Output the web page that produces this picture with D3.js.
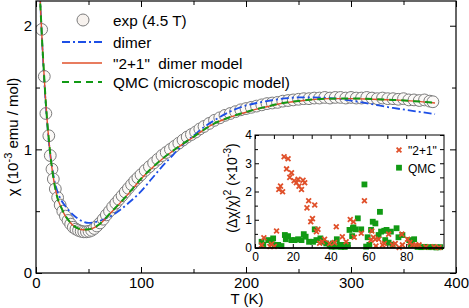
<!DOCTYPE html>
<html>
<head>
<meta charset="utf-8">
<script src="https://cdn.jsdelivr.net/npm/d3@7"></script>
<style>
  body { margin: 0; background: #fff; }
  svg { font-family: "Liberation Sans", Arial, Helvetica, sans-serif; }
</style>
</head>
<body>
<svg id="chart" width="469" height="308"></svg>
<script>
// experimental chi(T) at 4.5 T, 10^-3 emu/mol
var expT = [5.4, 7.9, 9.4, 12.2, 13.6, 15.2, 16.5, 18.4, 20.6, 23, 25.5, 28, 30.5, 33, 35.5, 38, 40.5, 43, 45.5, 48,
  50.5, 53, 55.5, 58, 61, 64, 67, 70, 73, 76, 79, 82, 85, 88, 91, 94, 97, 100, 104, 108, 112, 116, 120, 124, 128,
  132, 136, 140, 144, 148, 152, 156, 160, 165, 170, 175, 180, 185, 190, 195, 200, 205, 210, 215, 220, 225, 230,
  235, 240, 245, 250, 255, 260, 265, 270, 275, 280, 285, 290, 295, 300, 305, 310, 315, 320, 325, 330, 335, 340,
  345, 350, 355, 360, 365, 370, 375, 378];
var expChi = [1.97, 1.59, 1.29, 1.11, 0.95, 0.84, 0.76, 0.68, 0.61, 0.55, 0.5, 0.46, 0.425, 0.395, 0.37, 0.355, 0.345, 0.337, 0.333, 0.333,
  0.337, 0.345, 0.36, 0.38, 0.405, 0.435, 0.47, 0.5, 0.535, 0.565, 0.595, 0.625, 0.655, 0.685, 0.715, 0.745, 0.77, 0.795, 0.83, 0.86, 0.89, 0.92, 0.95, 0.975, 1.0,
  1.025, 1.05, 1.075, 1.1, 1.12, 1.14, 1.165, 1.185, 1.21, 1.235, 1.255, 1.275, 1.29, 1.305, 1.32, 1.33, 1.34, 1.35, 1.36, 1.37, 1.375, 1.38,
  1.39, 1.395, 1.4, 1.405, 1.41, 1.41, 1.415, 1.415, 1.42, 1.415, 1.42, 1.42, 1.415, 1.42, 1.415, 1.415, 1.42, 1.415, 1.41, 1.415, 1.41, 1.41,
  1.405, 1.41, 1.4, 1.4, 1.395, 1.4, 1.39, 1.385];

// model curves
var fitT = [2, 3, 4, 5, 6, 7, 8, 9, 10, 11, 12, 13, 14, 16, 18, 20, 24, 28, 32, 36, 40, 45, 50, 55, 60, 65, 70, 75, 80,
  90, 100, 110, 120, 130, 140, 150, 160, 170, 180, 190, 200, 210, 220, 230, 240, 250, 260, 280, 300, 320, 340, 360, 380];
var dimerChi = [2.9, 2.5, 2.22, 2.02, 1.84, 1.68, 1.53, 1.4, 1.28, 1.18, 1.08, 1.0, 0.93, 0.82, 0.73, 0.67, 0.59, 0.54, 0.5, 0.465, 0.44, 0.415, 0.405, 0.41, 0.42, 0.435, 0.455, 0.48, 0.51,
  0.58, 0.66, 0.76, 0.86, 0.95, 1.04, 1.11, 1.18, 1.235, 1.285, 1.325, 1.355, 1.375, 1.39, 1.405, 1.415, 1.42, 1.42, 1.415, 1.395, 1.365, 1.335, 1.31, 1.285];
var twoOneChi = [2.85, 2.45, 2.2, 2.02, 1.85, 1.7, 1.56, 1.42, 1.3, 1.19, 1.1, 1.01, 0.93, 0.8, 0.7, 0.62, 0.53, 0.46, 0.415, 0.38, 0.36, 0.35, 0.352, 0.365, 0.39, 0.43, 0.475, 0.52, 0.565,
  0.66, 0.76, 0.845, 0.92, 0.985, 1.045, 1.1, 1.16, 1.21, 1.245, 1.275, 1.3, 1.325, 1.345, 1.365, 1.38, 1.39, 1.4, 1.41, 1.41, 1.405, 1.4, 1.39, 1.375];
var qmcChi = [2.86, 2.46, 2.2, 2.02, 1.85, 1.7, 1.56, 1.42, 1.3, 1.19, 1.1, 1.01, 0.93, 0.8, 0.7, 0.62, 0.53, 0.462, 0.416, 0.381, 0.361, 0.351, 0.353, 0.366, 0.392, 0.432, 0.477, 0.522, 0.566,
  0.662, 0.762, 0.846, 0.922, 0.986, 1.046, 1.102, 1.16, 1.21, 1.246, 1.276, 1.302, 1.326, 1.346, 1.366, 1.381, 1.392, 1.401, 1.41, 1.412, 1.407, 1.4, 1.39, 1.376];

// inset: (delta chi / chi)^2 in 10^-3
var resT21 = [3.5, 4.7, 7.9, 8.8, 10.2, 11.4, 12.6, 13.5, 14.6, 15.4, 16.7, 17.5, 18.4, 19.3, 20.7, 21.9, 22.8, 23.3, 24.6, 25.4,
  26.3, 27.5, 28.4, 29.5, 30.4, 31.6, 32.5, 33.3, 34.2, 35.6, 36.8, 39.5, 42.1, 43, 46.2, 48.2, 50.4, 52.1, 52.5, 56.2,
  57.9, 61.4, 61.8, 62.6, 63.7, 64, 65.4, 67.5, 68.4, 70.7, 72.8, 74.2, 76.3, 77.7, 78, 80.7, 81.9, 83.3, 85.1, 86.8,
  90.4, 94.7, 97.4];
var res21 = [0.11, 0.36, 0.05, 0.14, 0.05, 0.6, 2.07, 2.19, 1.99, 3.23, 2.8, 3.16, 2.5, 2.66, 2.38, 2.31, 2.43, 2.19, 2.07, 2.4,
  2.31, 1.42, 1.67, 0.93, 1.04, 1.52, 0.58, 0.66, 0.17, 0.22, 0.31, 0.16, 0.19, 0.75, 0.4, 0.22, 1.01, 0.93, 0.38, 0.52,
  1.67, 0.28, 0.6, 0.38, 0.31, 0.07, 0.31, 0.11, 0.16, 0.49, 0.11, 0.16, 0.02, 0.49, 0.11, 0.31, 0.19, 0.11, 0.11, 0.11,
  0.04, 0.04, 0.02];
var resTQmc = [3.5, 4.4, 7, 8.8, 9.6, 10.5, 12.3, 14, 15.8, 16.3, 17.5, 19.3, 21, 22.8, 24.6, 25.8, 26.8, 28.6, 30.7, 31.6,
  32.5, 34.6, 36, 37.7, 39.5, 40.5, 41.2, 42.5, 43.3, 44.7, 45.5, 46.5, 47.5, 49.1, 50, 51.4, 51.8, 52.1, 53.2, 54.4,
  56.2, 57.9, 58.8, 59.6, 60.5, 61.4, 62.3, 63.7, 65.4, 66.1, 66.7, 68.4, 68.9, 69.6, 70.7, 71.9, 72.8, 74.9, 75.9, 78,
  81.6, 82.5, 84.2, 86, 88, 90, 92, 94, 96, 98];
var resQmc = [0.22, 0.11, 0.28, 0.22, 0.34, 0.11, 0.11, 0.07, 0.46, 0.31, 0.42, 0.28, 0.28, 0.31, 0.28, 0.49, 0.4, 0.22, 0.22, 0.66,
  0.28, 0.34, 0.22, 0.16, 0.11, 0.05, 0.16, 0.05, 0.31, 0.11, 0.04, 0.11, 0.04, 0.11, 0.64, 0.42, 0.7, 0.73, 0.66, 1.05,
  0.66, 2.25, 0.05, 0.38, 0.11, 0.64, 0.93, 0.87, 0.46, 1.28, 0.58, 0.61, 0.28, 0.64, 0.19, 0.58, 0.11, 0.7, 0.38, 0.46,
  0.28, 0.11, 0.31, 0.04, 0.03, 0.04, 0.03, 0.03, 0.02, 0.03];

var xTicks = [0, 100, 200, 300, 400],
    xMinor = [50, 150, 250, 350],
    yTicks = [0, 1, 2],
    yMinor = [0.5, 1.5];
var insXTicks = [0, 20, 40, 60, 80],
    insXMinor = [10, 30, 50, 70, 90],
    insYTicks = [0, 1, 2, 3, 4],
    insYMinor = [0.5, 1.5, 2.5, 3.5];

var svg = d3.select("#chart");

var mLeft = 36, mRight = 456, mTop = 1, mBottom = 273;

var x = d3.scaleLinear().domain([0, 400]).range([mLeft, mRight]);
var y = d3.scaleLinear().domain([0, 2.2]).range([mBottom, mTop]);

svg.append("clipPath").attr("id", "clip")
  .append("rect")
    .attr("x", mLeft).attr("y", mTop)
    .attr("width", mRight - mLeft).attr("height", mBottom - mTop);

// ticks (inward, all four sides)
function ticks(g, axis, vals, size, labels, pad) {
  g.call(axis.tickValues(vals).tickSize(-size).tickPadding(pad)
    .tickFormat(labels ? d3.format("d") : ""));
  g.select(".domain").remove();
  g.selectAll("line").attr("stroke", "#000");
}

var fs = 15;
var gx = svg.append("g").attr("transform", "translate(0," + mBottom + ")");
ticks(gx, d3.axisBottom(x), xTicks, 6, true, 4.5);
gx.selectAll("text").attr("font-size", fs).attr("fill", "#000").attr("font-family", null);
var gxm = svg.append("g").attr("transform", "translate(0," + mBottom + ")");
ticks(gxm, d3.axisBottom(x), xMinor, 4, false, 0);
var gxt = svg.append("g").attr("transform", "translate(0," + mTop + ")");
ticks(gxt, d3.axisTop(x), xTicks, 6, false, 0);
var gxtm = svg.append("g").attr("transform", "translate(0," + mTop + ")");
ticks(gxtm, d3.axisTop(x), xMinor, 4, false, 0);

var gy = svg.append("g").attr("transform", "translate(" + mLeft + ",0)");
ticks(gy, d3.axisLeft(y), yTicks, 6, true, 4);
gy.selectAll("text").attr("font-size", fs).attr("fill", "#000").attr("font-family", null);
var gym = svg.append("g").attr("transform", "translate(" + mLeft + ",0)");
ticks(gym, d3.axisLeft(y), yMinor, 4, false, 0);
var gyr = svg.append("g").attr("transform", "translate(" + mRight + ",0)");
ticks(gyr, d3.axisRight(y), yTicks, 6, false, 0);
var gyrm = svg.append("g").attr("transform", "translate(" + mRight + ",0)");
ticks(gyrm, d3.axisRight(y), yMinor, 4, false, 0);

// experimental circles
var plot = svg.append("g").attr("clip-path", "url(#clip)");
plot.selectAll("circle")
    .data(expT)
  .enter().append("circle")
    .attr("cx", function(d) { return x(d); })
    .attr("cy", function(d, i) { return y(expChi[i]); })
    .attr("r", 5.9)
    .attr("fill", "#fbf9f7")
    .attr("stroke", "#7c7c7c")
    .attr("stroke-width", 1);

function curve(vals) {
  return d3.line()
    .x(function(d) { return x(d); })
    .y(function(d, i) { return y(vals[i]); })
    .curve(d3.curveMonotoneX)(fitT);
}

var red = "#e0502a", green = "#119a14", blue = "#1d4fe6";

plot.append("path").attr("d", curve(dimerChi))
  .attr("fill", "none").attr("stroke", blue).attr("stroke-width", 1.8)
  .attr("stroke-dasharray", "8,3,2,3");
plot.append("path").attr("d", curve(twoOneChi))
  .attr("fill", "none").attr("stroke", red).attr("stroke-width", 1.4);
plot.append("path").attr("d", curve(qmcChi))
  .attr("fill", "none").attr("stroke", green).attr("stroke-width", 2)
  .attr("stroke-dasharray", "7,5");

svg.append("rect")
  .attr("x", mLeft).attr("y", mTop)
  .attr("width", mRight - mLeft).attr("height", mBottom - mTop)
  .attr("fill", "none").attr("stroke", "#000").attr("stroke-width", 1.2);

// axis titles
var ylab = svg.append("text")
  .attr("transform", "translate(18,137) rotate(-90)")
  .attr("text-anchor", "middle")
  .attr("font-size", fs);
ylab.append("tspan").text("\u03c7 (10");
ylab.append("tspan").attr("dy", -6).attr("font-size", 11).text("-3");
ylab.append("tspan").attr("dy", 6).text(" emu / mol)");

svg.append("text")
  .attr("x", 247).attr("y", 304)
  .attr("text-anchor", "middle")
  .attr("font-size", fs)
  .text("T (K)");

// legend
var lg = svg.append("g").attr("font-size", 15.3);
lg.append("circle").attr("cx", 83).attr("cy", 20).attr("r", 6)
  .attr("fill", "#f7f2ee").attr("stroke", "#7c7c7c").attr("stroke-width", 1);
lg.append("text").attr("x", 113).attr("y", 25.5).text("exp (4.5 T)");
lg.append("line").attr("x1", 62).attr("x2", 102).attr("y1", 42).attr("y2", 42)
  .attr("stroke", blue).attr("stroke-width", 1.8).attr("stroke-dasharray", "8,3,2,3");
lg.append("text").attr("x", 113).attr("y", 47.5).text("dimer");
lg.append("line").attr("x1", 62).attr("x2", 102).attr("y1", 63).attr("y2", 63)
  .attr("stroke", red).attr("stroke-width", 1.4);
lg.append("text").attr("x", 113).attr("y", 68.5).attr("xml:space", "preserve").text("\"2+1\"  dimer model");
lg.append("line").attr("x1", 62).attr("x2", 102).attr("y1", 82).attr("y2", 82)
  .attr("stroke", green).attr("stroke-width", 2).attr("stroke-dasharray", "7,5");
lg.append("text").attr("x", 113).attr("y", 87.5).text("QMC (microscopic model)");

// ---- inset ----
var il = 255, ir = 444, it = 135, ib = 248;
var ix = d3.scaleLinear().domain([0, 100]).range([il, ir]);
var iy = d3.scaleLinear().domain([0, 4]).range([ib, it]);

svg.append("rect").attr("x", il).attr("y", it)
  .attr("width", ir - il).attr("height", ib - it).attr("fill", "#fff");

var ifs = 12;
var igx = svg.append("g").attr("transform", "translate(0," + ib + ")");
ticks(igx, d3.axisBottom(ix), insXTicks, 4, true, 4.5);
igx.selectAll("text").attr("font-size", ifs).attr("fill", "#000").attr("font-family", null);
var igxm = svg.append("g").attr("transform", "translate(0," + ib + ")");
ticks(igxm, d3.axisBottom(ix), insXMinor, 3, false, 0);
var igxt = svg.append("g").attr("transform", "translate(0," + it + ")");
ticks(igxt, d3.axisTop(ix), insXTicks.concat(insXMinor), 4, false, 0);

var igy = svg.append("g").attr("transform", "translate(" + il + ",0)");
ticks(igy, d3.axisLeft(iy), insYTicks, 4, true, 3);
igy.selectAll("text").attr("font-size", ifs).attr("fill", "#000").attr("font-family", null);
var igym = svg.append("g").attr("transform", "translate(" + il + ",0)");
ticks(igym, d3.axisLeft(iy), insYMinor, 3, false, 0);
var igyr = svg.append("g").attr("transform", "translate(" + ir + ",0)");
ticks(igyr, d3.axisRight(iy), insYTicks.concat(insYMinor), 4, false, 0);

var inset = svg.append("g");
inset.selectAll("rect.qmc")
    .data(resTQmc)
  .enter().append("rect")
    .attr("class", "qmc")
    .attr("x", function(d) { return ix(d) - 2.9; })
    .attr("y", function(d, i) { return iy(resQmc[i]) - 2.9; })
    .attr("width", 5.8).attr("height", 5.8)
    .attr("fill", green);

var cross = "M-2.4,-2.4L2.4,2.4M-2.4,2.4L2.4,-2.4";
inset.selectAll("path.r21")
    .data(resT21)
  .enter().append("path")
    .attr("class", "r21")
    .attr("transform", function(d, i) { return "translate(" + ix(d) + "," + iy(res21[i]) + ")"; })
    .attr("d", cross)
    .attr("stroke", red).attr("stroke-width", 1.8).attr("fill", "none");

svg.append("rect").attr("x", il).attr("y", it)
  .attr("width", ir - il).attr("height", ib - it)
  .attr("fill", "none").attr("stroke", "#000").attr("stroke-width", 1);
svg.append("line").attr("x1", il).attr("x2", ir).attr("y1", ib).attr("y2", ib)
  .attr("stroke", "#000").attr("stroke-width", 1.6);

var iylab = svg.append("text")
  .attr("transform", "translate(237,188) rotate(-90)")
  .attr("text-anchor", "middle")
  .attr("font-size", 14);
iylab.append("tspan").text("(\u0394\u03c7/\u03c7)");
iylab.append("tspan").attr("dy", -6).attr("font-size", 10.5).text("2");
iylab.append("tspan").attr("dy", 6).text(" (\u00d710");
iylab.append("tspan").attr("dy", -6).attr("font-size", 10.5).text("-3");
iylab.append("tspan").attr("dy", 6).text(")");

var ilg = svg.append("g").attr("font-size", ifs);
ilg.append("path").attr("transform", "translate(399,150)")
  .attr("d", cross)
  .attr("stroke", red).attr("stroke-width", 1.8);
ilg.append("text").attr("x", 408).attr("y", 154.5).text("\"2+1\"");
ilg.append("rect").attr("x", 396.1).attr("y", 164.8).attr("width", 5.8).attr("height", 5.8)
  .attr("fill", green);
ilg.append("text").attr("x", 408).attr("y", 172.5).text("QMC");
</script>
</body>
</html>
